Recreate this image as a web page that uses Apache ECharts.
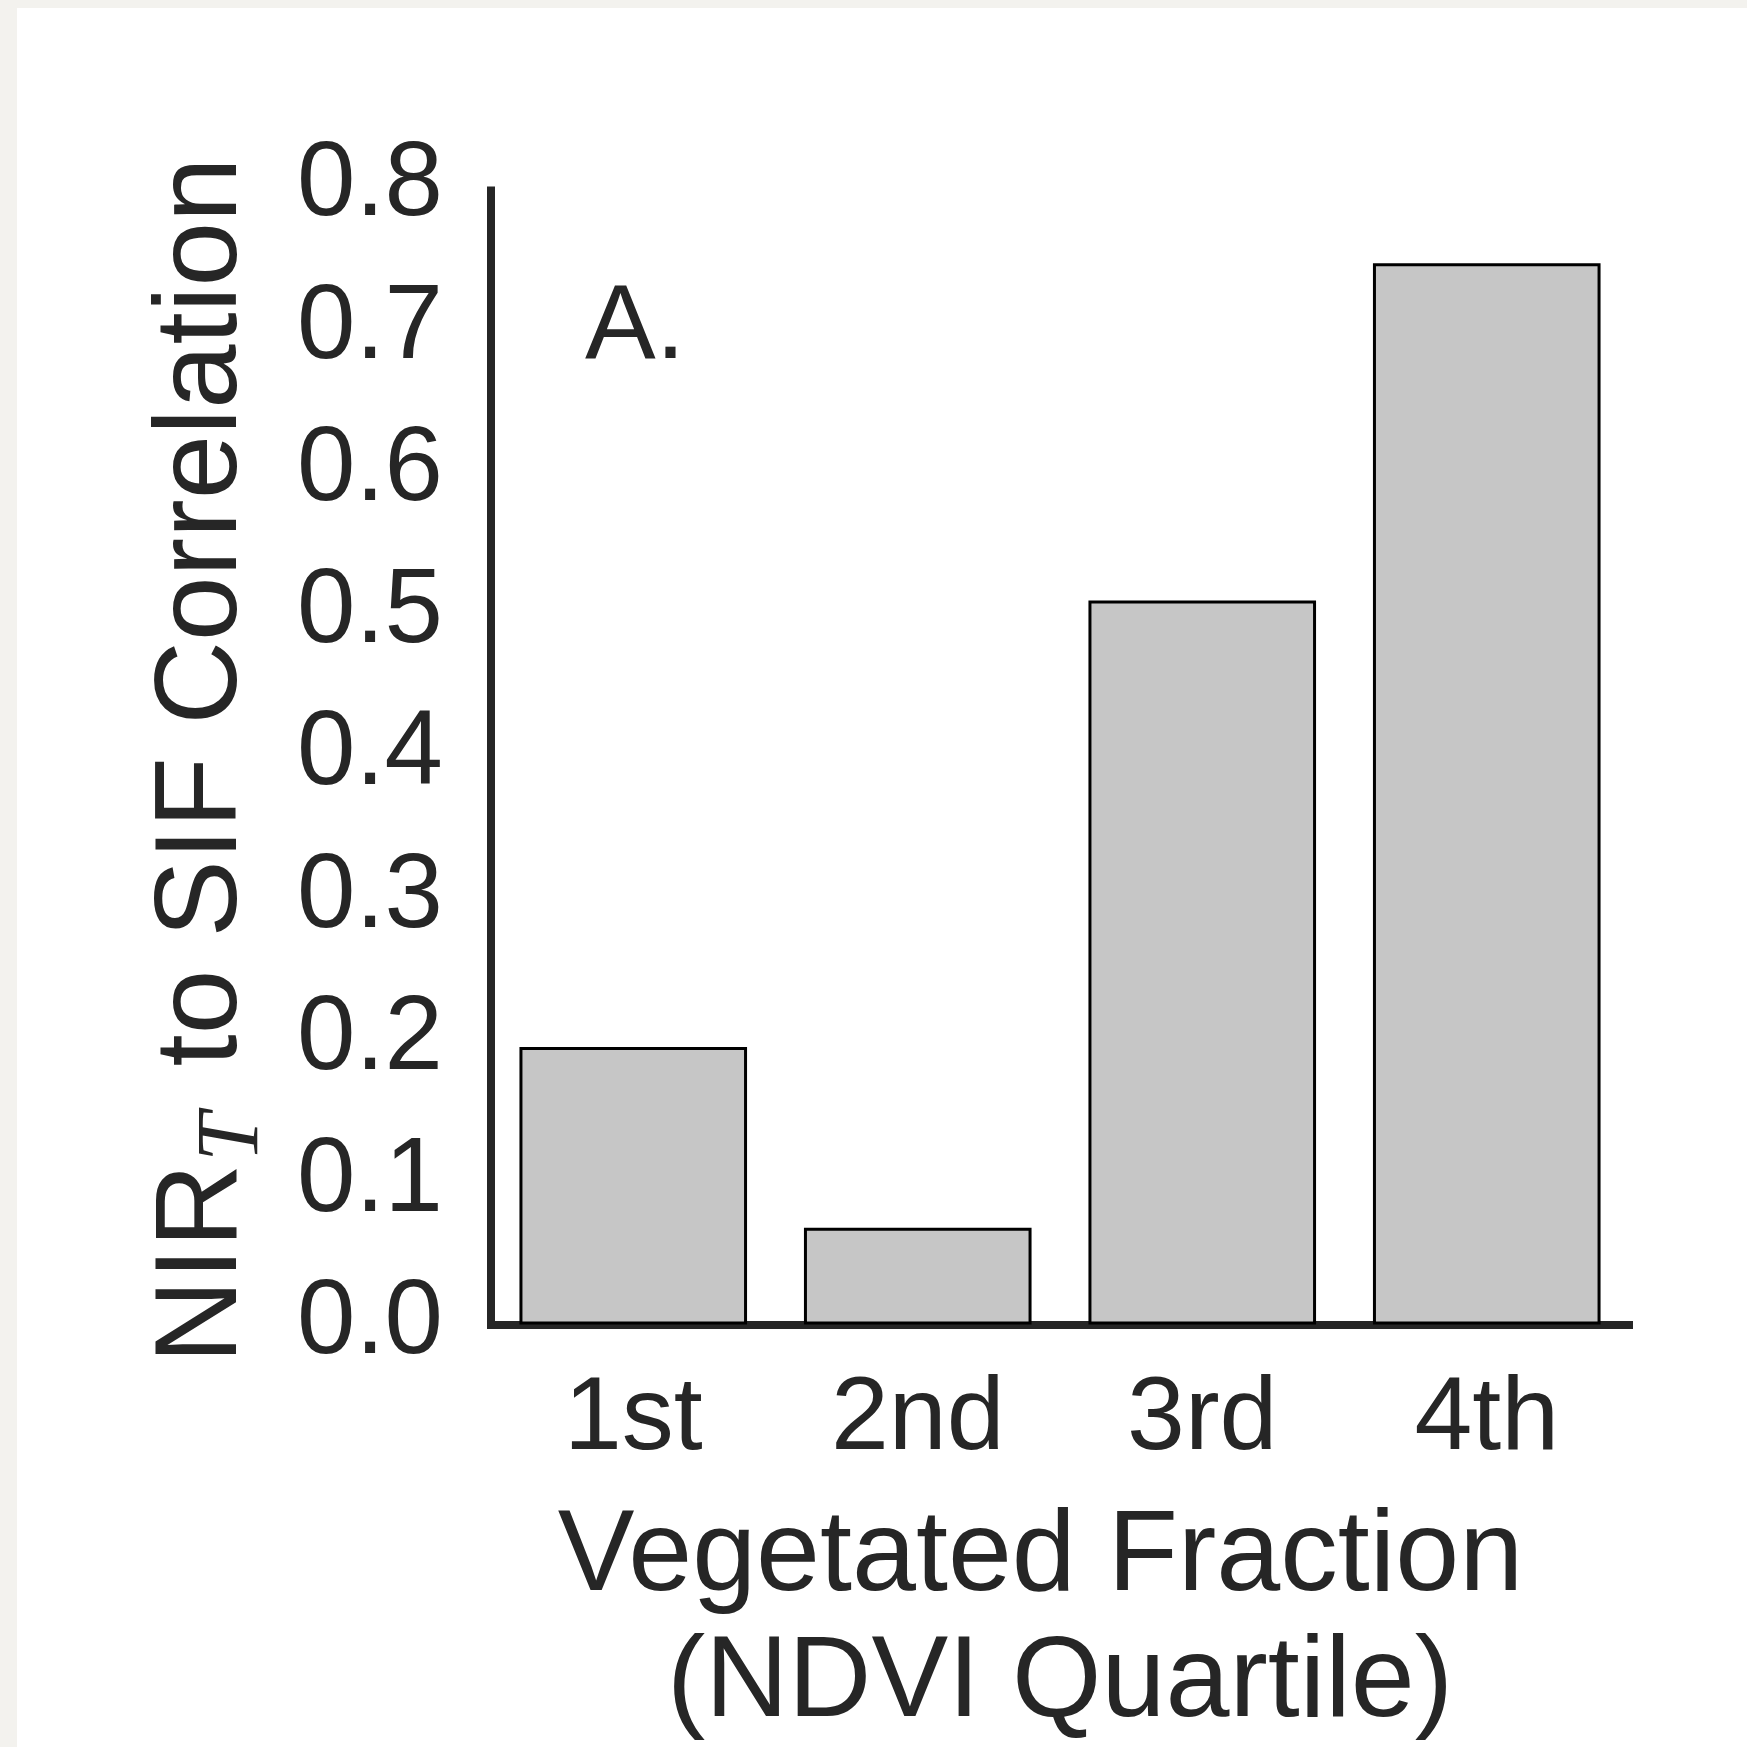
<!DOCTYPE html>
<html>
<head>
<meta charset="utf-8">
<script src="https://cdn.jsdelivr.net/npm/echarts@6/dist/echarts.min.js"></script>
<style>
  html, body { margin: 0; padding: 0; background: #f3f2ee; }
  #chart { position: absolute; left: 17px; top: 8px; width: 1730px; height: 1739px; background: #ffffff; }
</style>
</head>
<body>
<div id="chart"></div>
<script>
const categories = ['1st', '2nd', '3rd', '4th'];
const correlation = [0.195, 0.068, 0.509, 0.746];
const yTicks = { min: 0, max: 0.8, interval: 0.1 };
const xTitle = ['Vegetated Fraction', '(NDVI Quartile)'];
const yTitleParts = ['NIR', 'T', ' to SIF Correlation'];
const panelLabel = 'A.';

const FONT = 'Liberation Sans, Arial, sans-serif';
const INK = '#262626';

const chart = echarts.init(document.getElementById('chart'), null, { renderer: 'canvas' });

chart.setOption({
  animation: false,
  backgroundColor: '#ffffff',
  grid: { left: 474, right: 118, top: 178.4, bottom: 419, containLabel: false },
  xAxis: {
    type: 'category',
    data: categories,
    offset: 4,
    axisLine: { show: true, lineStyle: { color: INK, width: 8, cap: 'square' } },
    axisTick: { show: false },
    axisLabel: { color: INK, fontFamily: FONT, fontSize: 104, margin: 40 },
    splitLine: { show: false },
    name: '{a|' + xTitle[0] + '}\n{b|' + xTitle[1] + '}',
    nameLocation: 'middle',
    nameGap: 167,
    nameTextStyle: {
      color: INK,
      fontFamily: FONT,
      rich: {
        a: { fontFamily: FONT, fontSize: 115, lineHeight: 126, color: INK, padding: [0, 39, 0, 0] },
        b: { fontFamily: FONT, fontSize: 115, lineHeight: 126, color: INK }
      }
    }
  },
  yAxis: {
    type: 'value',
    min: yTicks.min,
    max: yTicks.max,
    interval: yTicks.interval,
    axisLine: { show: true, lineStyle: { color: INK, width: 8, cap: 'butt' } },
    axisTick: { show: false },
    splitLine: { show: false },
    axisLabel: {
      color: INK, fontFamily: FONT, fontSize: 105, margin: 48,
      formatter: v => v.toFixed(1)
    },
    name: '{n|' + yTitleParts[0] + '}{s|' + yTitleParts[1] + '}{n|' + yTitleParts[2] + '}{e|}',
    nameLocation: 'middle',
    nameRotate: 90,
    nameGap: 222,
    nameTextStyle: {
      color: INK,
      fontFamily: FONT,
      rich: {
        n: { fontFamily: FONT, fontSize: 116, lineHeight: 130, color: INK },
        s: { fontFamily: 'Liberation Serif, Times New Roman, serif', fontStyle: 'italic', fontSize: 88, lineHeight: 61, verticalAlign: 'bottom', color: INK, padding: [0, 14, -9, 2] },
        e: { fontSize: 116, lineHeight: 130, width: 10 }
      }
    }
  },
  series: [{
    type: 'bar',
    data: correlation,
    barCategoryGap: '20%',
    itemStyle: { color: '#c6c6c6', borderColor: '#000000', borderWidth: 3 },
    z: 1
  }],
  graphic: [{
    type: 'text',
    style: { x: 568, y: 320.5, text: panelLabel, font: '106px ' + FONT, fill: INK, verticalAlign: 'middle', align: 'left' }
  }]
});
</script>
</body>
</html>
